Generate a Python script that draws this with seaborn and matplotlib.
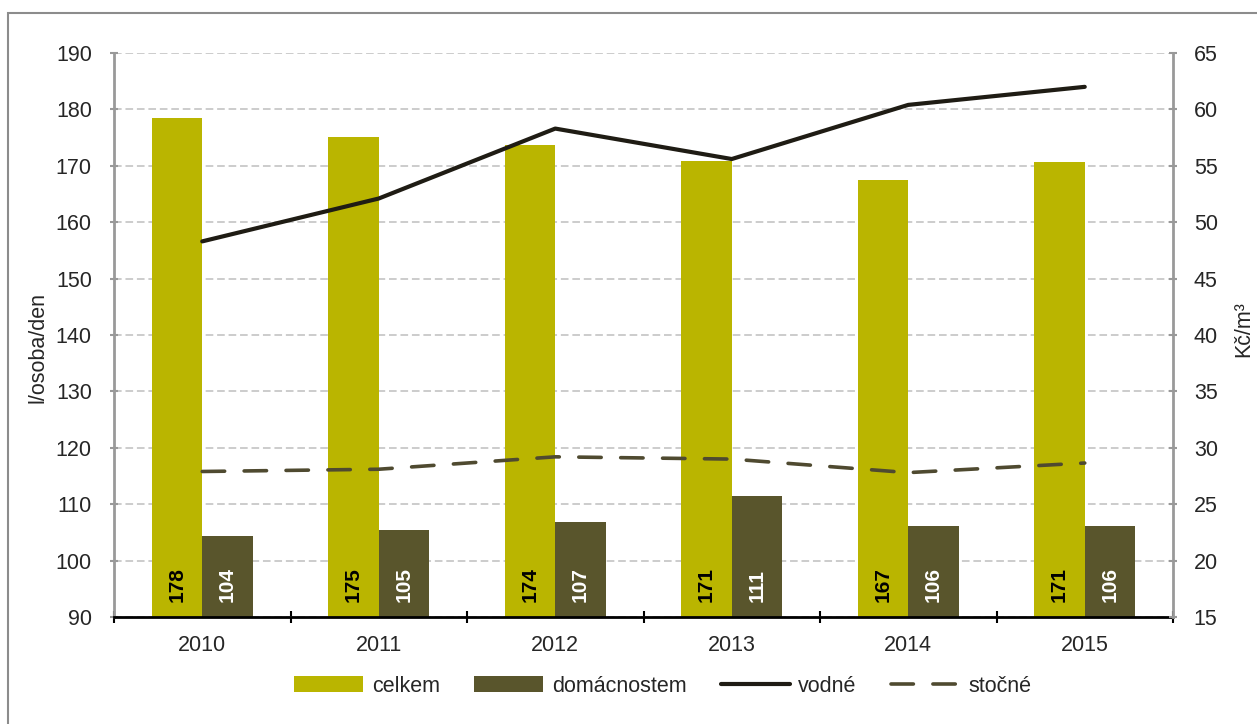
import numpy as np
import pandas as pd
import matplotlib
matplotlib.use("Agg")
import matplotlib.pyplot as plt
from matplotlib.patches import Patch, Rectangle
from matplotlib.lines import Line2D
from matplotlib.ticker import FixedLocator
import seaborn as sns

# ---- data ----
years = ["2010", "2011", "2012", "2013", "2014", "2015"]
celkem = [178.4, 175.1, 173.6, 170.9, 167.4, 170.6]
domacnostem = [104.4, 105.4, 106.8, 111.4, 106.1, 106.1]
vodne = [48.3, 52.1, 58.3, 55.6, 60.4, 62.0]
stocne = [27.9, 28.1, 29.2, 29.0, 27.8, 28.65]
series_names = ["celkem", "domácnostem", "vodné", "stočné"]

c_celkem = "#BAB500"
c_dom = "#59552C"
c_vodne = "#1F1C14"
c_stocne = "#4F4A30"

sns.set_style("white")
plt.rcParams["font.family"] = ["Liberation Sans", "DejaVu Sans"]

FS = 15.5
W, H = 1257, 724
fig = plt.figure(figsize=(W / 100, H / 100), dpi=100)
ax = fig.add_axes([114 / W, 1 - 617 / H, (1173 - 114) / W, (617 - 53) / H])

df = pd.DataFrame({
    "rok": years * 2,
    "serie": [series_names[0]] * len(years) + [series_names[1]] * len(years),
    "hodnota": celkem + domacnostem,
})
sns.barplot(data=df, x="rok", y="hodnota", hue="serie",
            palette={series_names[0]: c_celkem, series_names[1]: c_dom},
            width=0.57, saturation=1, linewidth=0, legend=False, ax=ax)

ax.set_ylim(90, 190)
ax.set_xlim(-0.5, len(years) - 0.5)
ax.set_yticks(range(90, 191, 10))
ax.yaxis.grid(True, color="#BFBFBF", linestyle=(0, (5, 2.5)), linewidth=1.1)
ax.xaxis.grid(False)
ax.set_axisbelow(True)
ax.set_xlabel("")
ax.set_ylabel("l/osoba/den", fontsize=FS)
ax.yaxis.set_label_coords(-0.062, 0.477)

# bar value labels
hue_vals = [celkem, domacnostem]
for container, colr, vals in zip(ax.containers, ["black", "white"], hue_vals):
    for bar, v in zip(container, vals):
        ax.annotate(f"{v:.0f}", (bar.get_x() + bar.get_width() / 2, 90),
                    xytext=(0, 10.5), textcoords="offset points",
                    rotation=90, ha="center", va="bottom",
                    fontsize=15, fontweight="bold", color=colr)

for s in ["top", "right"]:
    ax.spines[s].set_visible(False)
ax.spines["left"].set_color("#999999")
ax.spines["left"].set_linewidth(2)
ax.spines["bottom"].set_color("black")
ax.spines["bottom"].set_linewidth(2)
ax.tick_params(axis="y", direction="inout", length=6, width=1.5, color="#999999",
               labelsize=FS, pad=13, left=True)
ax.tick_params(axis="x", which="major", length=0, labelsize=FS, pad=13)
ax.xaxis.set_minor_locator(FixedLocator(np.arange(-0.5, len(years), 1.0)))
ax.tick_params(axis="x", which="minor", direction="inout", length=8, width=1.5,
               color="black", bottom=True)

# right axis lines
ax2 = ax.twinx()
xs = np.arange(len(years))
sns.lineplot(x=xs, y=vodne, ax=ax2, color=c_vodne, linewidth=3.0,
             solid_capstyle="round")
sns.lineplot(x=xs, y=stocne, ax=ax2, color=c_stocne, linewidth=2.6)
ax2.lines[-1].set_dashes((6.2, 5.4))
ax2.lines[-1].set_dash_capstyle("round")
ax2.set_ylim(15, 65)
ax2.set_yticks(range(15, 66, 5))
ax2.set_xlim(-0.5, len(years) - 0.5)
for s in ["top", "left", "bottom"]:
    ax2.spines[s].set_visible(False)
ax2.spines["right"].set_color("#999999")
ax2.spines["right"].set_linewidth(2)
ax2.tick_params(axis="y", direction="inout", length=6, width=1.5, color="#999999",
                labelsize=FS, pad=12, right=True)
ax2.set_ylabel("Kč/m³", fontsize=FS)
ax2.yaxis.set_label_coords(1.0567, 0.51)

# legend
handles = [
    Patch(facecolor=c_celkem, edgecolor="none"),
    Patch(facecolor=c_dom, edgecolor="none"),
    Line2D([], [], color=c_vodne, linewidth=3.0),
    Line2D([], [], color=c_stocne, linewidth=2.6, dashes=(6.2, 5.4), dash_capstyle="round"),
]
fig.legend(handles, series_names, loc="center", ncol=4,
           bbox_to_anchor=(663 / W, 1 - 686 / H), frameon=False, fontsize=FS,
           handlelength=3.2, handleheight=0.75, handletextpad=0.4, columnspacing=1.6)

# outer border
fig.patches.append(Rectangle((8 / W, -0.2), 1.2, 0.2 + 1 - 13 / H,
                             transform=fig.transFigure, fill=False,
                             edgecolor="#8C8C8C", linewidth=1.5))

fig.savefig("out.png", dpi=100)
